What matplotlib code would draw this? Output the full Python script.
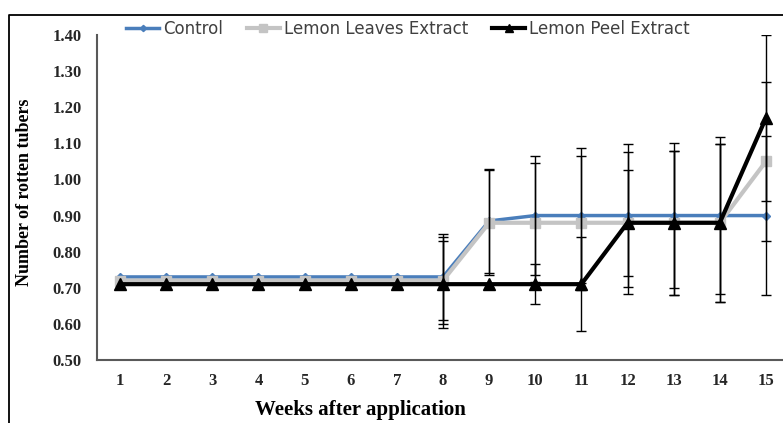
import numpy as np
import matplotlib.pyplot as plt
from matplotlib.lines import Line2D

# Gegevens
weken = [1, 2, 3, 4, 5, 6, 7, 8, 9, 10, 11, 12, 13, 14, 15]
control = [0.73, 0.73, 0.73, 0.73, 0.73, 0.73, 0.73, 0.73, 0.885, 0.90, 0.90, 0.90, 0.90, 0.90, 0.90]
leaves = [0.72, 0.72, 0.72, 0.72, 0.72, 0.72, 0.72, 0.72, 0.88, 0.88, 0.88, 0.88, 0.88, 0.88, 1.05]
peel = [0.71, 0.71, 0.71, 0.71, 0.71, 0.71, 0.71, 0.71, 0.71, 0.71, 0.71, 0.88, 0.88, 0.88, 1.17]

# Foutmarges (0 = geen foutbalk)
control_err = [0, 0, 0, 0, 0, 0, 0, 0.12, 0.145, 0.165, 0.186, 0.197, 0.20, 0.218, 0.22]
leaves_err = [0, 0, 0, 0, 0, 0, 0, 0.12, 0.145, 0.165, 0.186, 0.197, 0.20, 0.218, 0.22]
peel_err = [0, 0, 0, 0, 0, 0, 0, 0.12, 0, 0.055, 0.13, 0.147, 0.20, 0.218, 0.23]

y_ticks = [0.5, 0.6, 0.7, 0.8, 0.9, 1.0, 1.1, 1.2, 1.3, 1.4]

fig = plt.figure(figsize=(7.83, 4.23), dpi=100)
ax = fig.add_axes([97 / 783, 63 / 423, 692 / 783, 325 / 423])

series = [
    (control, control_err, 'Control', '#4A7EBB', 'D', 4, 2.5),
    (leaves, leaves_err, 'Lemon Leaves Extract', '#C4C4C4', 's', 7, 3),
    (peel, peel_err, 'Lemon Peel Extract', 'black', '^', 8, 3),
]

x = np.array(weken)
for waarden, fout, naam, kleur, marker, ms, lw in series:
    waarden = np.array(waarden)
    fout = np.array(fout)
    ax.plot(x, waarden, color=kleur, marker=marker, markersize=ms, linewidth=lw,
            label=naam, zorder=2)
    m = fout > 0
    ax.errorbar(x[m], waarden[m], yerr=fout[m], fmt='none', ecolor='black',
                elinewidth=1, capsize=3.5, capthick=1, zorder=3)

ax.set_xlim(0.5, 15.5)
ax.set_ylim(0.5, 1.4)
ax.set_xticks(weken)
ax.set_yticks(y_ticks)
ax.set_yticklabels([f'{v:.2f}' for v in y_ticks])

for s in ['top', 'right']:
    ax.spines[s].set_visible(False)
for s in ['left', 'bottom']:
    ax.spines[s].set_color('#595959')
    ax.spines[s].set_linewidth(1.5)

ax.tick_params(axis='both', length=0, labelsize=12, colors='#262626')
ax.tick_params(axis='y', pad=11)
ax.tick_params(axis='x', pad=9)
for lab in ax.get_xticklabels() + ax.get_yticklabels():
    lab.set_fontfamily('Liberation Serif')
    lab.set_fontweight('bold')

fig.text(360 / 783, 1 - 410 / 423, 'Weeks after application', ha='center', va='center',
         fontsize=15, fontweight='bold', fontfamily='Liberation Serif')
fig.text(25 / 783, 1 - 192 / 423, 'Number of rotten tubers', ha='center', va='center',
         rotation=90, fontsize=13, fontweight='bold', fontfamily='Liberation Serif')

leg = ax.legend(loc='center', bbox_to_anchor=(408 / 783, 1 - 29 / 423),
                bbox_transform=fig.transFigure, ncol=3, frameon=False,
                prop={'family': 'DejaVu Sans', 'size': 12},
                handlelength=2.0, handletextpad=0.25, columnspacing=1.4,
                markerscale=0.8)
for t in leg.get_texts():
    t.set_color('#404040')

# Kader rond de figuur (boven en links)
fig.add_artist(Line2D([9 / 783, 9 / 783, 1.0], [0.0, 1 - 15 / 423, 1 - 15 / 423],
                      transform=fig.transFigure, color='black', linewidth=1.3))

fig.savefig('out.png', dpi=100)
